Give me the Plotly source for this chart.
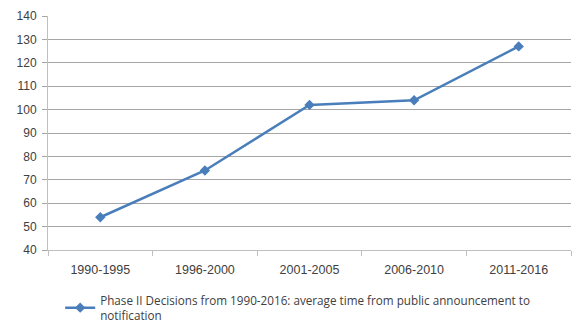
import plotly.graph_objects as go

categories = ["1990-1995", "1996-2000", "2001-2005", "2006-2010", "2011-2016"]
values = [54, 74, 102, 104, 127]
series_name = "Phase II Decisions from 1990-2016: average time from public announcement to<br>notification"

fig = go.Figure()
fig.add_trace(go.Scatter(
    x=categories, y=values, mode="lines+markers", name=series_name,
    line=dict(color="#4a7ebb", width=2.5),
    marker=dict(symbol="diamond", size=8, color="#4a7ebb"),
))

fig.update_layout(
    width=573, height=322,
    margin=dict(l=48, r=2, t=16, b=72, autoexpand=False),
    paper_bgcolor="white", plot_bgcolor="white",
    font=dict(family="Liberation Sans, sans-serif", size=12, color="#404040"),
    showlegend=True,
    legend=dict(x=0.105, xref="container", y=0.112, yref="container",
                xanchor="left", yanchor="top",
                font=dict(family="Open Sans, sans-serif", size=11.7, color="#404040"),
                bgcolor="rgba(0,0,0,0)", itemwidth=30, tracegroupgap=0),
    xaxis=dict(type="category", range=[-0.5, 4.5], showgrid=False, automargin=False,
               showline=True, linecolor="#bfbfbf", linewidth=1,
               ticks="outside", tickson="boundaries", ticklen=5, tickcolor="#bfbfbf",
               ticklabelstandoff=8, tickfont=dict(size=12.5)),
    yaxis=dict(range=[40, 140], dtick=10, showgrid=True, gridcolor="#a6a6a6", gridwidth=1,
               showline=True, linecolor="#bfbfbf", linewidth=1, automargin=False,
               ticks="outside", ticklen=5, tickcolor="#a6a6a6", zeroline=False,
               ticklabelstandoff=3, tickfont=dict(size=12)),
)

fig.write_html("out.html")
